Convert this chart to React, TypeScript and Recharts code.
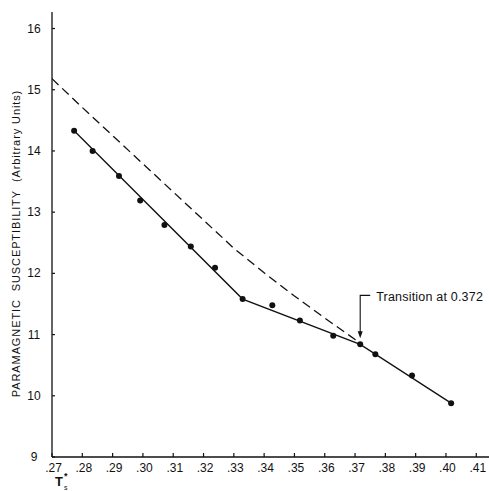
import React from "react";
import {
  ComposedChart,
  XAxis,
  YAxis,
  Line,
  Scatter,
  ReferenceDot,
} from "recharts";

// reduced temperature ticks and susceptibility ticks
const tempTicks = [0.27, 0.28, 0.29, 0.3, 0.31, 0.32, 0.33, 0.34, 0.35, 0.36, 0.37, 0.38, 0.39, 0.4, 0.41];
const suscTicks = [9, 10, 11, 12, 13, 14, 15, 16];

// measured points
const measuredT = [0.2773, 0.2834, 0.2921, 0.2991, 0.3071, 0.3158, 0.3238, 0.3329, 0.3427, 0.3518, 0.3628, 0.3717, 0.3767, 0.3888, 0.4017];
const measuredChi = [14.33, 14.0, 13.59, 13.19, 12.79, 12.44, 12.09, 11.58, 11.48, 11.23, 10.98, 10.84, 10.68, 10.33, 9.88];

// drawn solid line through the points
const fitT = [0.2773, 0.3329, 0.3717, 0.4017];
const fitChi = [14.33, 11.58, 10.84, 9.88];

// dashed extrapolation
const extrapT = [0.27, 0.28, 0.29, 0.3, 0.31, 0.32, 0.33, 0.34, 0.35, 0.36, 0.37, 0.3717];
const extrapChi = [15.18, 14.71, 14.25, 13.79, 13.33, 12.87, 12.41, 12.01, 11.63, 11.27, 10.92, 10.85];

const transitionT = 0.3717;
const transitionChi = 10.84;
const transitionText = "Transition at 0.372";
const yTitle = "PARAMAGNETIC\u00a0\u00a0SUSCEPTIBILITY\u00a0\u00a0(Arbitrary\u00a0Units)";

const measured = measuredT.map((t, i) => ({ t, chi: measuredChi[i] }));
const fit = fitT.map((t, i) => ({ t, chi: fitChi[i] }));
const extrap = extrapT.map((t, i) => ({ t, chi: extrapChi[i] }));

const ink = "#111";
const font = "'Liberation Sans', Arial, sans-serif";

const XTick = (props: any) => {
  const { x, y, payload } = props;
  const label = payload.value.toFixed(2).replace(/^0/, "");
  return (
    <g>
      <line x1={x} y1={y} x2={x} y2={y - 4} stroke={ink} strokeWidth={1.2} />
      <text x={x + 1.5} y={y + 15} textAnchor="middle" fontSize={12} fontFamily={font} fill={ink}>
        {label}
      </text>
    </g>
  );
};

const YTick = (props: any) => {
  const { x, y, payload } = props;
  return (
    <g>
      <line x1={x} y1={y} x2={x + 3} y2={y} stroke={ink} strokeWidth={1.2} />
      <text x={x - 18} y={y + 4} textAnchor="middle" fontSize={12} fontFamily={font} fill={ink}>
        {payload.value}
      </text>
    </g>
  );
};

const TransitionMark = (props: any) => {
  const { cx, cy } = props;
  return (
    <g>
      <path d={`M${cx},${cy - 10} L${cx},${cy - 49} L${cx + 10},${cy - 49}`} fill="none" stroke={ink} strokeWidth={1.1} />
      <polygon points={`${cx - 2.5},${cy - 13} ${cx + 2.5},${cy - 13} ${cx},${cy - 6}`} fill={ink} />
      <text x={cx + 16} y={cy - 43} fontSize={12.5} letterSpacing={0.2} fontFamily={font} fill={ink}>
        {transitionText}
      </text>
    </g>
  );
};

const XLabel = (props: any) => {
  const { viewBox } = props;
  const x = viewBox.x + 3;
  const y = viewBox.y + 29;
  return (
    <g fontFamily={font} fill={ink}>
      <text x={x} y={y} fontSize={13} fontWeight="bold">T</text>
      <text x={x + 9} y={y - 7} fontSize={9} fontWeight="bold">*</text>
      <text x={x + 9} y={y + 4} fontSize={7}>s</text>
    </g>
  );
};

const YLabel = (props: any) => {
  const { viewBox } = props;
  const x = 16;
  const y = viewBox.y + viewBox.height / 2 + 9;
  return (
    <text
      x={x}
      y={y}
      transform={`rotate(-90, ${x}, ${y})`}
      textAnchor="middle"
      dominantBaseline="central"
      fontSize={11}
      letterSpacing={0.9}
      fontFamily={font}
      fill={ink}
    >
      {yTitle}
    </text>
  );
};

const dot = (props: any) => <circle cx={props.cx} cy={props.cy} r={3} fill={ink} />;

export default function App() {
  return (
    <div style={{ position: "absolute", left: 0, top: 0, background: "#fff" }}>
      <ComposedChart width={489} height={491} margin={{ top: 12, right: 0, bottom: 0, left: 0 }}>
        <XAxis
          type="number"
          dataKey="t"
          domain={[0.27, 0.4142]}
          ticks={tempTicks}
          interval={0}
          allowDataOverflow
          height={34}
          tickSize={0}
          tickMargin={0}
          tickLine={false}
          tick={<XTick />}
          axisLine={{ stroke: ink, strokeWidth: 1.3 }}
          label={<XLabel />}
        />
        <YAxis
          type="number"
          domain={[9, 16.27]}
          ticks={suscTicks}
          interval={0}
          allowDataOverflow
          width={52}
          tickSize={0}
          tickMargin={0}
          tickLine={false}
          tick={<YTick />}
          axisLine={{ stroke: ink, strokeWidth: 1.3 }}
          label={<YLabel />}
        />
        <Line
          data={extrap}
          dataKey="chi"
          type="linear"
          stroke={ink}
          strokeWidth={1.3}
          strokeDasharray="9 5"
          dot={false}
          activeDot={false}
          isAnimationActive={false}
        />
        <Line
          data={fit}
          dataKey="chi"
          type="linear"
          stroke={ink}
          strokeWidth={1.3}
          dot={false}
          activeDot={false}
          isAnimationActive={false}
        />
        <Scatter data={measured} dataKey="chi" fill={ink} shape={dot} isAnimationActive={false} />
        <ReferenceDot x={transitionT} y={transitionChi} r={0} shape={<TransitionMark />} />
      </ComposedChart>
    </div>
  );
}
